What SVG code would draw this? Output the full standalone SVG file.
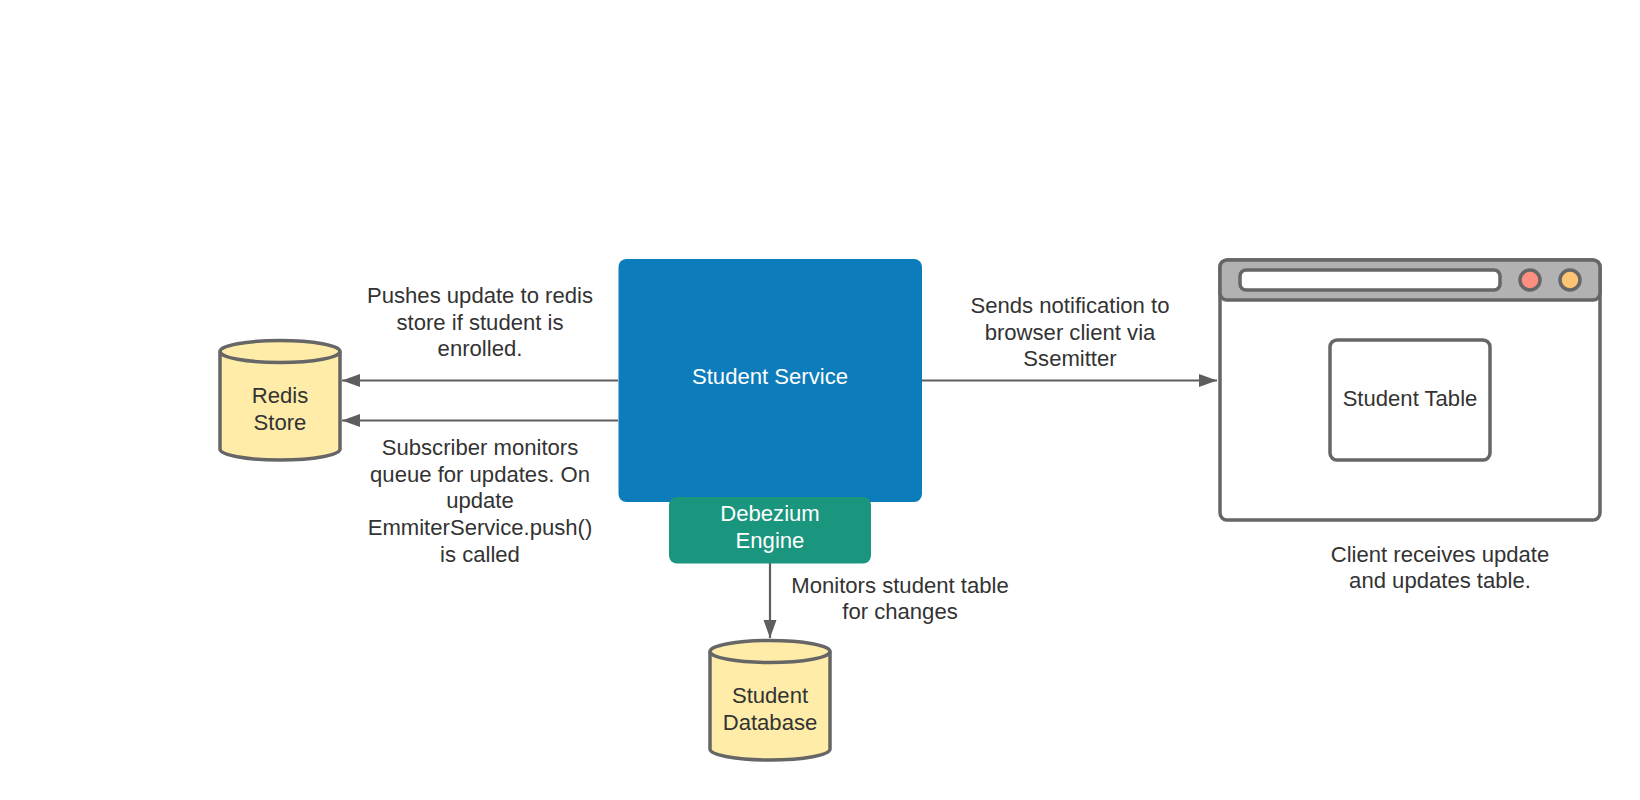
<svg xmlns="http://www.w3.org/2000/svg" width="1640" height="800" viewBox="0 0 1640 800">
<style>
text{font-family:"Liberation Sans",Arial,sans-serif;font-size:22.1px;fill:#333;text-anchor:middle}
.w{fill:#fff}
.cyl{fill:#ffeca9;stroke:#666;stroke-width:3.500}
.conn{fill:none;stroke:#5e5e5e;stroke-width:2.200}
.b{stroke:#666;stroke-width:3.500}
</style>
<defs><marker id="ah" markerUnits="userSpaceOnUse" markerWidth="20" markerHeight="16" refX="18" refY="8" orient="auto"><path d="M0 1.500L18 8L0 14.500Z" fill="#5e5e5e"/></marker></defs>
<rect width="1640" height="800" fill="#fff"/>
<g id="connectors">
<path class="conn" d="M618 380.500H342" marker-end="url(#ah)"/>
<path class="conn" d="M618 420.500H342" marker-end="url(#ah)"/>
<path class="conn" d="M922 380.500H1217" marker-end="url(#ah)"/>
<path class="conn" d="M770 563V638" marker-end="url(#ah)"/>
</g>
<g id="student-service"><rect x="618.500" y="259" width="303.500" height="243" rx="8" fill="#0c7cba"/><text class="w" x="770" y="383.500">Student Service</text></g>
<g id="debezium-engine"><rect x="669" y="497" width="202" height="66.500" rx="8" fill="#19967d"/><text class="w" x="770" y="521">Debezium</text><text class="w" x="770" y="547.700">Engine</text></g>
<g id="redis-store"><path class="cyl" d="M220 351.500V449C220 455 246 460 280 460S340 455 340 449V351.500"/><ellipse class="cyl" cx="280" cy="351.500" rx="60" ry="11"/><text x="280" y="403">Redis</text><text x="280" y="429.700">Store</text></g>
<g id="student-database"><path class="cyl" d="M710 651.500V749C710 755 736 760 770 760S830 755 830 749V651.500"/><ellipse class="cyl" cx="770" cy="651.500" rx="60" ry="11"/><text x="770" y="703">Student</text><text x="770" y="729.700">Database</text></g>
<g id="browser-client">
<rect class="b" x="1220" y="260" width="380" height="260" rx="7" fill="#fff"/>
<rect class="b" x="1220" y="260" width="380" height="40" rx="7" fill="#b2b2b2"/>
<rect class="b" x="1240" y="270" width="260" height="20" rx="6" fill="#fff"/>
<circle class="b" cx="1530" cy="280" r="10" fill="#ff8f80"/>
<circle class="b" cx="1570" cy="280" r="10" fill="#ffc374"/>
<rect class="b" x="1330" y="340" width="160" height="120" rx="7" fill="#fff"/>
<text x="1410" y="406">Student Table</text>
</g>
<g id="labels">
<text x="480" y="303">Pushes update to redis</text><text x="480" y="329.700">store if student is</text><text x="480" y="356.300">enrolled.</text>
<text x="480" y="455">Subscriber monitors</text><text x="480" y="481.700">queue for updates. On</text><text x="480" y="508.300">update</text><text x="480" y="535">EmmiterService.push()</text><text x="480" y="561.700">is called</text>
<text x="1070" y="313">Sends notification to</text><text x="1070" y="339.700">browser client via</text><text x="1070" y="366.300">Ssemitter</text>
<text x="900" y="592.500">Monitors student table</text><text x="900" y="619">for changes</text>
<text x="1440" y="561.500">Client receives update</text><text x="1440" y="588">and updates table.</text>
</g>
</svg>
